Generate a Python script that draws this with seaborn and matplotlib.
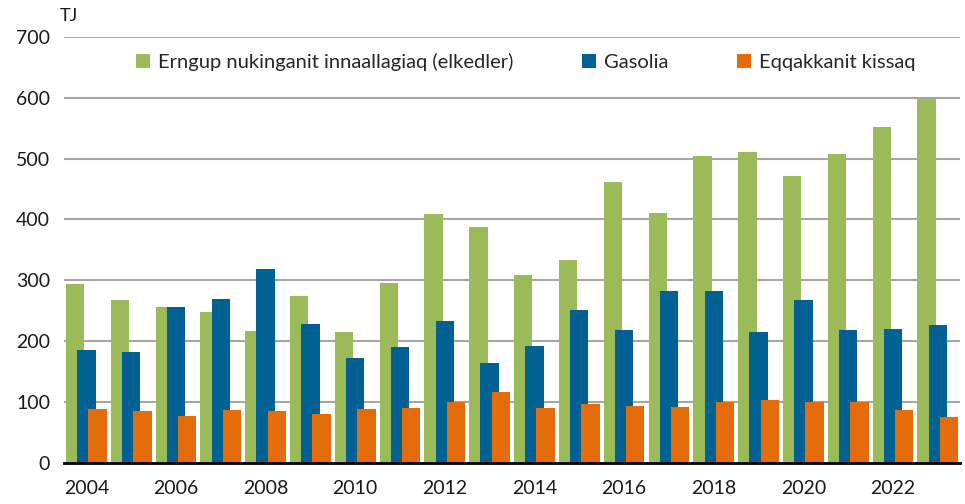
import numpy as np
import pandas as pd
import matplotlib.pyplot as plt
import seaborn as sns

years = list(range(2004, 2024))
elkedler = [294, 267, 257, 248, 217, 274, 215, 296, 409, 388, 309, 333, 461, 410, 505, 511, 472, 507, 552, 598]
gasolia = [185, 183, 256, 269, 318, 228, 172, 191, 234, 165, 192, 252, 219, 283, 283, 216, 267, 219, 220, 226]
kissaq = [88, 86, 77, 87, 86, 80, 89, 90, 101, 116, 91, 97, 93, 92, 100, 104, 101, 101, 87, 75]

labels = ["Erngup nukinganit innaallagiaq (elkedler)", "Gasolia", "Eqqakkanit kissaq"]
colors = ["#9BBB59", "#006192", "#E46C0A"]

sns.set_style("white")
plt.rcParams["font.family"] = ["Lato", "DejaVu Sans"]

fig = plt.figure(figsize=(9.65, 5.04), dpi=100)
ax = fig.add_axes([0.0663, 0.0813, 0.9287, 0.8457])

yrs = np.array(years)
series = [elkedler, gasolia, kissaq]
offsets = [-0.25, 0.0, 0.25]
for vals, lab, col, off in zip(series, labels, colors, offsets):
    df = pd.DataFrame({"x": yrs + off, "y": vals})
    sns.barplot(data=df, x="x", y="y", native_scale=True, width=0.41,
                color=col, saturation=1, errorbar=None, label=lab, ax=ax,
                linewidth=0, zorder=3)

ax.set_xlim(2003.5, 2023.5)
ax.set_ylim(0, 700)
ax.set_xticks(years[::2])
ax.set_xticklabels([str(y) for y in years[::2]])
ax.set_yticks(range(0, 701, 100))
ax.set_xlabel("")
ax.set_ylabel("")
ax.yaxis.grid(True, color="#A6A6A6", linewidth=1.5, zorder=0)
ax.set_axisbelow(True)
for s in ["left", "right", "top"]:
    ax.spines[s].set_visible(False)
ax.spines["bottom"].set_color("black")
ax.spines["bottom"].set_linewidth(2)
ax.spines["bottom"].set_zorder(5)
ax.tick_params(axis="both", length=0, labelsize=14, colors="#1a1a1a")
ax.tick_params(axis="x", pad=12)
ax.tick_params(axis="y", pad=10)

fig.text(0.062, 0.968, "TJ", fontsize=13, va="center", ha="left", color="#1a1a1a")

ax.legend(loc="center", bbox_to_anchor=(0.545, 0.877), bbox_transform=fig.transFigure,
          ncol=3, frameon=False, fontsize=14.5, handlelength=0.7, handleheight=0.7,
          handletextpad=0.4, columnspacing=3.4)

fig.savefig("out.png", dpi=100)
